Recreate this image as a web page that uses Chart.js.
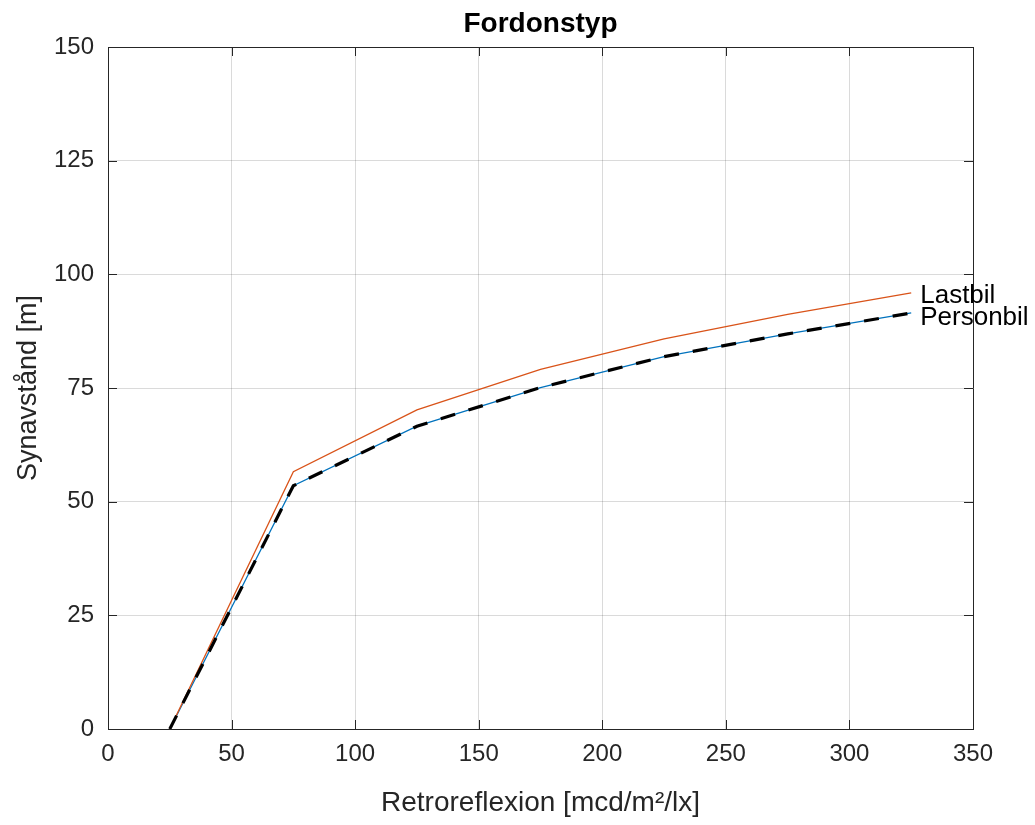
<!DOCTYPE html>
<html>
<head>
<meta charset="utf-8">
<script src="https://cdn.jsdelivr.net/npm/chart.js@4"></script>
<style>
  html, body { margin: 0; padding: 0; background: #fff; }
  #wrap { width: 1035px; height: 825px; }
</style>
</head>
<body>
<div id="wrap"><canvas id="chart" width="1035" height="825"></canvas></div>
<script>
// -----------------------------
// DATA
// -----------------------------
const retro = [25, 75, 125, 175, 225, 275, 325];
const lastbil = [0, 56.6, 70.2, 79.1, 85.8, 91.2, 95.9];
const personbil = [0, 53.5, 66.6, 75.1, 81.9, 86.9, 91.5];
const personbilRef = [0, 53.5, 66.6, 75.1, 81.9, 86.9, 91.5];
const xTicks = [0, 50, 100, 150, 200, 250, 300, 350];
const yTicks = [0, 25, 50, 75, 100, 125, 150];

const FONT = "'Liberation Sans', Arial, Helvetica, sans-serif";
const AXIS = "#262626";
const toPoints = ys => retro.map((x, i) => ({ x: x, y: ys[i] }));

// box, inner ticks, title and line labels
const matlabAxes = {
    id: 'matlabAxes',
    afterDraw(chart) {
        const { ctx, chartArea: a, scales: { x, y } } = chart;
        ctx.save();
        ctx.strokeStyle = AXIS;
        ctx.lineWidth = 1;
        ctx.beginPath();
        ctx.rect(a.left + 0.5, a.top + 0.5, a.right - a.left, a.bottom - a.top);
        ctx.stroke();

        ctx.beginPath();
        xTicks.forEach(v => {
            const px = Math.round(x.getPixelForValue(v)) + 0.5;
            ctx.moveTo(px, a.bottom); ctx.lineTo(px, a.bottom - 9);
            ctx.moveTo(px, a.top); ctx.lineTo(px, a.top + 9);
        });
        yTicks.forEach(v => {
            const py = Math.round(y.getPixelForValue(v)) + 0.5;
            ctx.moveTo(a.left, py); ctx.lineTo(a.left + 9, py);
            ctx.moveTo(a.right, py); ctx.lineTo(a.right - 9, py);
        });
        ctx.stroke();

        // title
        ctx.fillStyle = "#000";
        ctx.font = "bold 28px " + FONT;
        ctx.textAlign = "center";
        ctx.textBaseline = "middle";
        ctx.fillText("Fordonstyp", (a.left + a.right) / 2, 24);

        // line end labels
        ctx.font = "26px " + FONT;
        ctx.textAlign = "left";
        const last = retro.length - 1;
        ctx.fillText("Lastbil", x.getPixelForValue(retro[last]) + 9, y.getPixelForValue(lastbil[last]) + 3);
        ctx.fillText("Personbil", x.getPixelForValue(retro[last]) + 9, y.getPixelForValue(personbil[last]) + 5);
        ctx.restore();
    }
};

const ctx = document.getElementById("chart").getContext("2d");
new Chart(ctx, {
    type: "line",
    data: {
        datasets: [{
            label: "Personbil (ref)",
            data: toPoints(personbilRef),
            borderColor: "#000",
            borderWidth: 3.2,
            borderDash: [15, 14],
            pointRadius: 0,
            fill: false,
            tension: 0
        }, {
            label: "Lastbil",
            data: toPoints(lastbil),
            borderColor: "#D95319",
            borderWidth: 1.3,
            pointRadius: 0,
            fill: false,
            tension: 0
        }, {
            label: "Personbil",
            data: toPoints(personbil),
            borderColor: "#0072BD",
            borderWidth: 1.3,
            pointRadius: 0,
            fill: false,
            tension: 0
        }]
    },
    options: {
        responsive: false,
        animation: false,
        layout: { padding: { top: 47, right: 62, bottom: 0, left: 0 } },
        plugins: {
            legend: { display: false },
            tooltip: { enabled: false }
        },
        scales: {
            x: {
                type: "linear",
                min: 0,
                max: 350,
                afterFit: s => { s.height = 96; },
                afterBuildTicks: s => { s.ticks = xTicks.map(v => ({ value: v })); },
                ticks: { color: AXIS, padding: 11, font: { family: FONT, size: 24 } },
                grid: { color: "rgba(38,38,38,0.17)", drawTicks: false },
                border: { color: AXIS, width: 1 },
                title: {
                    display: true,
                    text: "Retroreflexion [mcd/m\u00B2/lx]",
                    color: AXIS,
                    font: { family: FONT, size: 28 },
                    padding: { top: 0, bottom: 5 }
                }
            },
            y: {
                min: 0,
                max: 150,
                afterFit: s => { s.width = 108; },
                afterBuildTicks: s => { s.ticks = yTicks.map(v => ({ value: v })); },
                ticks: { color: AXIS, padding: 14, font: { family: FONT, size: 24 } },
                grid: { color: "rgba(38,38,38,0.17)", drawTicks: false },
                border: { color: AXIS, width: 1 },
                title: {
                    display: true,
                    text: "Synavstånd [m]",
                    color: AXIS,
                    font: { family: FONT, size: 27 },
                    padding: { top: 12, bottom: 0 }
                }
            }
        }
    },
    plugins: [matlabAxes]
});
</script>
</body>
</html>
